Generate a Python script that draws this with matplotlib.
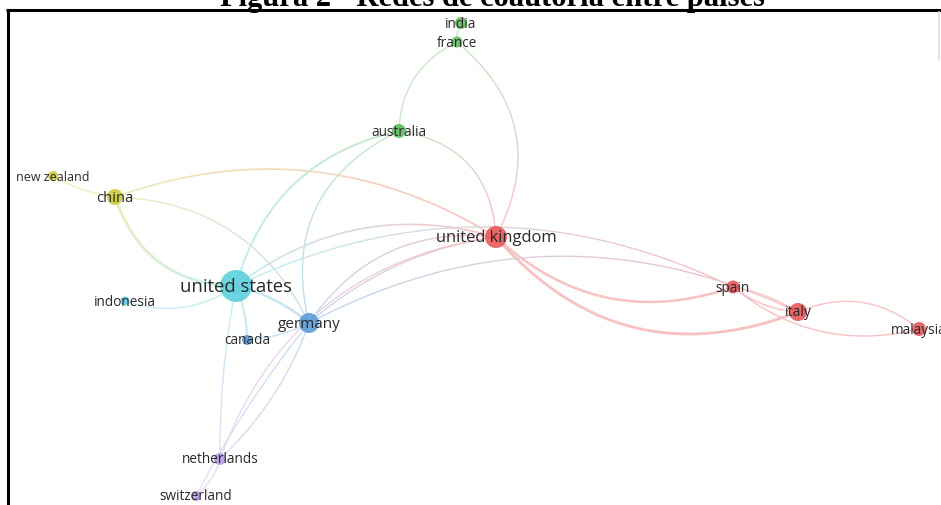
import numpy as np
import matplotlib
matplotlib.use("Agg")
import matplotlib.pyplot as plt
from matplotlib.collections import LineCollection
from matplotlib.colors import to_rgb

# ---------------- data ----------------
countries = ["india", "france", "australia", "new zealand", "china",
             "united kingdom", "united states", "indonesia", "germany",
             "canada", "spain", "italy", "malaysia", "netherlands", "switzerland"]
# layout coordinates of the map (VOSviewer-like, y downwards)
node_x = [461, 457, 399, 53, 115, 496, 236, 125, 309, 247, 733, 798, 919, 220, 196]
node_y = [24, 43, 132, 177, 198, 238, 287, 302, 324, 341, 288, 313, 330, 460, 497]
node_weight = [6, 5.5, 7, 5, 8, 11, 16, 4.5, 10, 5, 6.5, 9, 7, 6, 5]
cluster = [3, 3, 3, 4, 4, 1, 5, 5, 2, 2, 1, 1, 1, 6, 6]

edge_src = ["india", "france", "france", "australia", "australia", "australia",
            "new zealand", "china", "china", "china", "united states",
            "united states", "united states", "united states", "netherlands",
            "netherlands", "germany", "germany", "united kingdom", "united kingdom",
            "germany", "united states", "spain", "spain", "italy", "spain",
            "netherlands", "switzerland", "canada", "netherlands"]
edge_tgt = ["france", "australia", "united kingdom", "united kingdom",
            "united states", "germany", "china", "united kingdom", "united states",
            "germany", "indonesia", "united kingdom", "germany", "canada",
            "united states", "germany", "united kingdom", "united kingdom",
            "spain", "italy", "italy", "spain", "italy", "italy", "malaysia",
            "malaysia", "switzerland", "germany", "germany", "united kingdom"]
edge_weight = [1.2, 1.0, 1.0, 1.0, 1.4, 1.0, 1.0, 1.2, 2.0, 0.9, 1.0, 1.2, 1.8,
               1.4, 1.0, 1.0, 1.0, 1.0, 1.8, 2.0, 1.0, 1.0, 1.2, 1.0, 1.0, 1.0,
               1.2, 0.9, 1.0, 0.9]

# ---------------- styles ----------------
cluster_colors = {1: "#e8575a", 2: "#5b9bd8", 3: "#62bd62", 4: "#cccc3a",
                  5: "#5ccfdd", 6: "#b69be0"}
edge_curv = [0.15, 0.3, -0.4, -0.4, 0.3, 0.4, 0.1, -0.24, 0.35, -0.3, -0.25,
             -0.25, -0.12, -0.1, -0.05, 0.12, -0.3, -0.15, 0.3, 0.35, -0.25, -0.24,
             0.15, -0.1, -0.3, 0.25, -0.15, -0.05, 0.1, -0.3]
label_size = {"united states": 13.3, "united kingdom": 11.9, "germany": 11.0,
              "china": 10.6, "italy": 10.0, "new zealand": 9.0}
default_label = 9.8
edge_alpha = 0.38

W, H = 941, 506
fig = plt.figure(figsize=(W / 100, H / 100), dpi=100)
ax = fig.add_axes([0, 0, 1, 1])
ax.set_xlim(0, W)
ax.set_ylim(H, 0)
ax.axis("off")

idx = {c: i for i, c in enumerate(countries)}
pos = np.column_stack([node_x, node_y]).astype(float)
white = np.ones(3)

t = np.linspace(0, 1, 80)
for s, g, lw, c in zip(edge_src, edge_tgt, edge_weight, edge_curv):
    p0 = pos[idx[s]]
    p2 = pos[idx[g]]
    d = p2 - p0
    L = np.hypot(*d)
    n = np.array([-d[1], d[0]]) / L
    p1 = (p0 + p2) / 2 + c * L * n
    pts = ((1 - t)[:, None] ** 2) * p0 + (2 * (1 - t) * t)[:, None] * p1 + (t[:, None] ** 2) * p2
    segs = np.stack([pts[:-1], pts[1:]], axis=1)
    c0 = np.array(to_rgb(cluster_colors[cluster[idx[s]]]))
    c1 = np.array(to_rgb(cluster_colors[cluster[idx[g]]]))
    tm = (t[:-1] + t[1:]) / 2
    cols = (1 - tm)[:, None] * c0 + tm[:, None] * c1
    cols = edge_alpha * cols + (1 - edge_alpha) * white
    ax.add_collection(LineCollection(segs, colors=cols, linewidths=lw,
                                     capstyle="butt", zorder=1))

for i, name in enumerate(countries):
    r = node_weight[i]
    s = (2 * r * 0.72) ** 2
    ax.scatter(node_x[i], node_y[i], s=s, color=cluster_colors[cluster[i]],
               alpha=0.9, edgecolors="none", zorder=2)
    ax.text(node_x[i], node_y[i], name, ha="center", va="center",
            fontsize=label_size.get(name, default_label), color="#2a2a2a",
            family="Open Sans", zorder=3)

# frame of the screenshot
ax.plot([6, W], [10.5, 10.5], color="black", lw=2.2, solid_capstyle="butt", zorder=4)
ax.plot([8.5, 8.5], [10, H], color="black", lw=2.2, solid_capstyle="butt", zorder=4)
ax.plot([939.5, 939.5], [13, 60], color="#dddddd", lw=1.2, zorder=4)

ax.text(492, 6, "Figura 2 - Redes de coautoria entre países", ha="center",
        va="baseline", family="Liberation Serif", weight="bold", fontsize=22,
        color="black", zorder=5)

fig.savefig("out.png", dpi=100)
